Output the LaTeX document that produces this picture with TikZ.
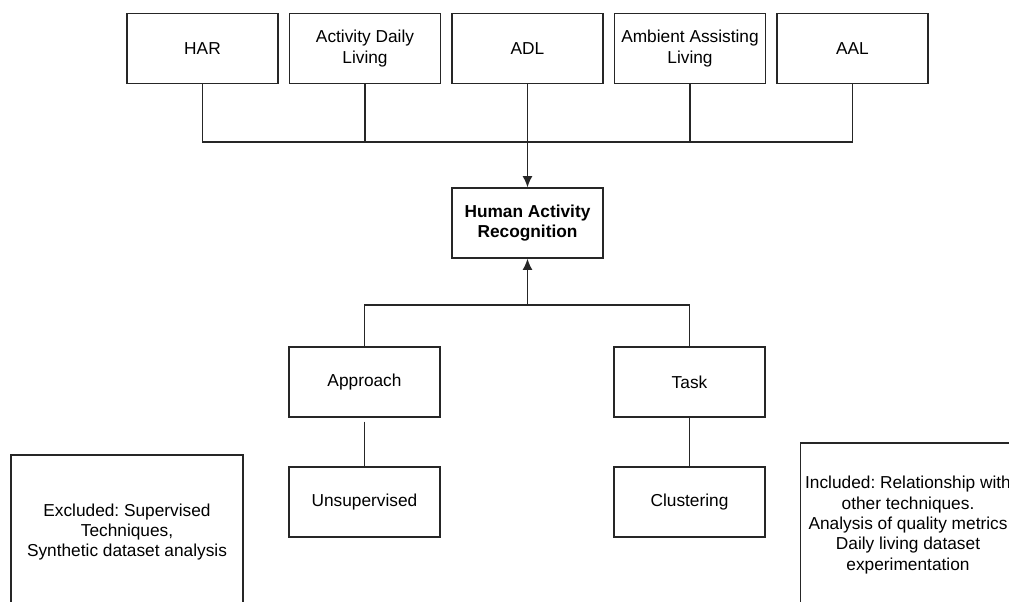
\documentclass[tikz,border=0pt]{standalone}
\usepackage{fontspec}
\setmainfont{Liberation Sans}
\usetikzlibrary{arrows.meta}
\frenchspacing

\begin{document}
\begin{tikzpicture}[x=0.025cm,y=-0.025cm,
    box/.style={draw=black!85,line width=1pt,minimum width=3.78cm,minimum height=1.75cm,
        align=center,font=\fontsize{12.3}{14.5}\selectfont},
    hubbox/.style={box,font=\fontsize{12.3}{14.5}\selectfont\bfseries},
    link/.style={draw=black!85,line width=1pt},
    arr/.style={link,-{Latex[length=2.8mm,width=2.5mm]}}]

    \useasboundingbox (0,0) rectangle (1009,601);
    \clip (0,0) rectangle (1009,601);

    % keywords
    \node[box] (har) at (202.5,48.5) {HAR};
    \node[box] (actdaily) at (365,48.5) {Activity Daily\\Living};
    \node[box] (adl) at (527.5,48.5) {ADL};
    \node[box] (ambient) at (690,48.5) {Ambient Assisting\\Living};
    \node[box] (aal) at (852.5,48.5) {AAL};

    \node[hubbox] (humanact) at (527.5,223) {Human Activity\\Recognition};

    % approach and task
    \node[box] (approach) at (364.5,382) {Approach};
    \node[box] (task) at (689.5,382) {Task};
    \node[box] (unsup) at (364.5,502) {Unsupervised};
    \node[box] (cluster) at (689.5,502) {Clustering};

    % scope boxes
    \node[box,minimum width=5.8cm,minimum height=3.85cm] (excluded) at (127,532)
        {Excluded: Supervised\\Techniques,\\Synthetic dataset analysis};
    \node[box,minimum width=5.3cm,minimum height=4.1cm] (included) at (908,525)
        {Included: Relationship with\\other techniques.\\Analysis of quality metrics\\Daily living dataset\\experimentation};

    % connectors
    \coordinate (topbus) at (527.5,142);
    \coordinate (botbus) at (527.5,305);
    \draw[link] (har.south) |- (topbus) -| (aal.south);
    \draw[link] (actdaily.south) -- (actdaily.south |- topbus);
    \draw[link] (ambient.south) -- (ambient.south |- topbus);
    \draw[arr] (adl.south) -- (humanact.north);

    \draw[link] (approach.north) |- (botbus) -| (task.north);
    \draw[arr] (botbus) -- (humanact.south);

    \draw[link,shorten <=0.1cm] (approach.south) -- (unsup.north);
    \draw[link] (task.south) -- (cluster.north);

\end{tikzpicture}
\end{document}
